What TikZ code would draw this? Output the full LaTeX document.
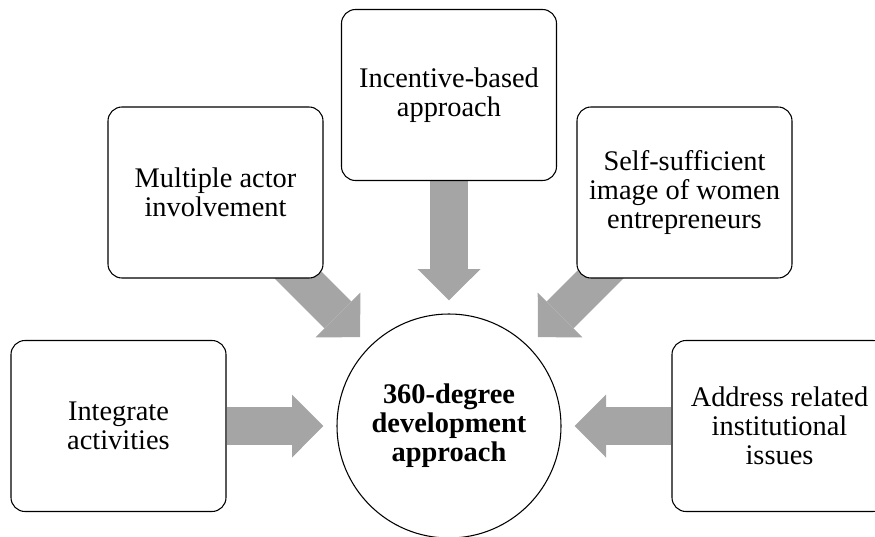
\documentclass[tikz,border=0pt]{standalone}
\usepackage{fontspec}
\setmainfont{Liberation Serif}
\usetikzlibrary{arrows.meta,backgrounds,calc}
\definecolor{flowgray}{HTML}{A5A5A5}
\begin{document}
\begin{tikzpicture}[x=0.75pt,y=-0.75pt,
  card/.style={draw=black, line width=0.8pt, fill=white, rounded corners=10.5pt,
    minimum width=161.25pt, minimum height=128.25pt, align=center, inner sep=0pt,
    font=\fontsize{21.3}{21.8}\selectfont},
  hub/.style={circle, draw=black, line width=0.8pt, fill=white, minimum size=168pt,
    align=center, inner sep=0pt, font=\fontsize{21.3}{21.8}\selectfont\bfseries},
  flow/.style={draw=flowgray, line width=28.5pt, line cap=butt,
    -{Triangle[length=23.6pt,width=47.25pt,line width=0pt]}, shorten >=9.75pt}]
\useasboundingbox (0,0) rectangle (875,536);

% central circle
\node[hub] (hub) at (449,426) {360-degree\\development\\approach};

% surrounding boxes
\node[card] (integ)  at (118.5,426) {Integrate\\activities};
\node[card] (multi)  at (215.5,192.5) {Multiple actor\\involvement};
\node[card] (incent) at (449,95) {Incentive-based\\approach};
\node[card] (self)   at (684.5,192.5) {Self-sufficient\\image of women\\entrepreneurs};
\node[card] (addr)   at (779.5,426) {Address related\\institutional\\issues};

% diagonal arrows start underneath the upper boxes
\coordinate (tailL) at ($(hub.center)+(-170,-170)$);
\coordinate (tailR) at ($(hub.center)+(170,-170)$);

\begin{pgfonlayer}{background}
\draw[flow] (integ.east) -- (hub.west);
\draw[flow] (addr.west) -- (hub.east);
\draw[flow] (incent.south) -- (hub.north);
\draw[flow] (tailL) -- (hub.135);
\draw[flow] (tailR) -- (hub.45);
\end{pgfonlayer}
\end{tikzpicture}
\end{document}
